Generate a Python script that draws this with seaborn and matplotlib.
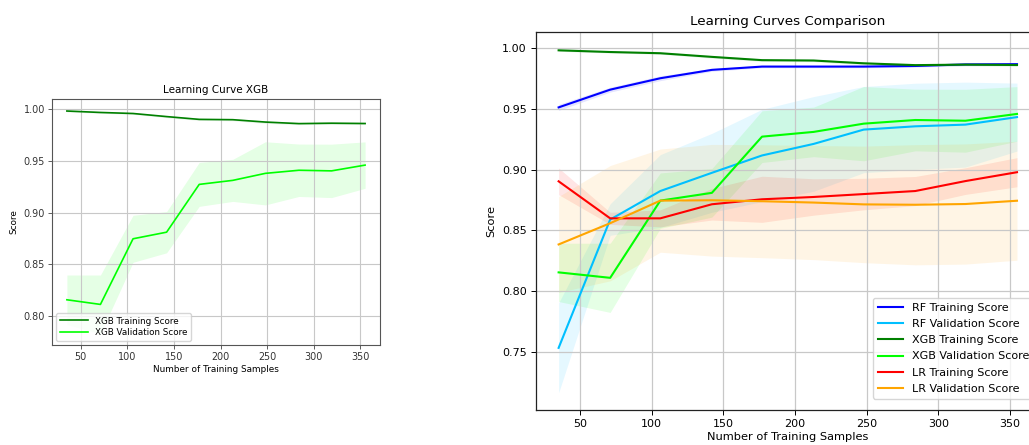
import numpy as np
import matplotlib
matplotlib.use("Agg")
import matplotlib.pyplot as plt
import seaborn as sns
import pandas as pd

# Training set sizes used for the learning curves
train_sizes = [35, 71, 106, 142, 177, 213, 248, 284, 319, 355]

# Random forest
rf_train_mean = [0.9514, 0.9660, 0.9754, 0.9823, 0.9850, 0.9850, 0.9850, 0.9855, 0.9868, 0.9870]
rf_train_std = [0.0025, 0.0020, 0.0020, 0.0012, 0.0010, 0.0010, 0.0010, 0.0010, 0.0010, 0.0010]
rf_val_mean = [0.7533, 0.8590, 0.8825, 0.8975, 0.9118, 0.9213, 0.9331, 0.9358, 0.9372, 0.9434]
rf_val_std = [0.0370, 0.0130, 0.0300, 0.0325, 0.0380, 0.0390, 0.0355, 0.0355, 0.0350, 0.0280]

# XGBoost
xgb_train_mean = [0.9984, 0.9970, 0.9960, 0.9930, 0.9903, 0.9900, 0.9877, 0.9862, 0.9866, 0.9863]
xgb_train_std = [0.0008, 0.0008, 0.0008, 0.0010, 0.0010, 0.0010, 0.0012, 0.0010, 0.0010, 0.0010]
xgb_val_mean = [0.8155, 0.8110, 0.8746, 0.8810, 0.9273, 0.9312, 0.9380, 0.9410, 0.9404, 0.9460]
xgb_val_std = [0.0240, 0.0285, 0.0228, 0.0200, 0.0213, 0.0204, 0.0306, 0.0254, 0.0259, 0.0225]

# Logistic regression
lr_train_mean = [0.8905, 0.8600, 0.8600, 0.8716, 0.8757, 0.8776, 0.8800, 0.8825, 0.8907, 0.8980]
lr_train_std = [0.0110, 0.0050, 0.0070, 0.0130, 0.0190, 0.0150, 0.0130, 0.0120, 0.0110, 0.0120]
lr_val_mean = [0.8385, 0.8560, 0.8746, 0.8749, 0.8741, 0.8730, 0.8715, 0.8712, 0.8718, 0.8745]
lr_val_std = [0.0395, 0.0475, 0.0425, 0.0460, 0.0465, 0.0470, 0.0480, 0.0495, 0.0495, 0.0490]

series = [
    ("RF Training Score", rf_train_mean, rf_train_std, "blue"),
    ("RF Validation Score", rf_val_mean, rf_val_std, "deepskyblue"),
    ("XGB Training Score", xgb_train_mean, xgb_train_std, "green"),
    ("XGB Validation Score", xgb_val_mean, xgb_val_std, "lime"),
    ("LR Training Score", lr_train_mean, lr_train_std, "red"),
    ("LR Validation Score", lr_val_mean, lr_val_std, "orange"),
]


def draw_curve(ax, label, mean, std, color, lw):
    df = pd.DataFrame({"size": train_sizes, "score": mean})
    sns.lineplot(data=df, x="size", y="score", ax=ax, color=color, label=label, linewidth=lw)
    m = np.asarray(mean)
    s = np.asarray(std)
    ax.fill_between(train_sizes, m - s, m + s, color=color, alpha=0.1, linewidth=0)


fig = plt.figure(figsize=(10.29, 4.45), dpi=100)

# Single-model curve for XGBoost
ax1 = fig.add_axes([0.0505, 0.2247, 0.3188, 0.5528])
for label, mean, std, color in series[2:4]:
    draw_curve(ax1, label, mean, std, color, 1.2)
ax1.set_title("Learning Curve XGB", fontsize=7.5, pad=4)
ax1.set_xlabel("Number of Training Samples", fontsize=6.4, labelpad=2)
ax1.set_ylabel("Score", fontsize=6.4, labelpad=4)
ax1.tick_params(labelsize=6.9, length=3, width=0.6, pad=2, colors="#444444", labelcolor="#333333")
ax1.grid(True, linewidth=0.8, color="#c8c8c8")
ax1.legend(loc="lower left", fontsize=6.3, handlelength=3.2, borderpad=0.4, labelspacing=0.3)
for sp in ax1.spines.values():
    sp.set_linewidth(0.8)
    sp.set_color("#555555")

# Comparison of all three models
ax2 = fig.add_axes([0.5206, 0.0787, 0.490, 0.849])
for label, mean, std, color in series:
    draw_curve(ax2, label, mean, std, color, 1.5)
ax2.set_title("Learning Curves Comparison", fontsize=9.7, pad=5)
ax2.set_xlabel("Number of Training Samples", fontsize=8.2, labelpad=2)
ax2.set_ylabel("Score", fontsize=8.2, labelpad=4)
ax2.tick_params(labelsize=8, length=3.5, width=0.7, pad=3)
ax2.grid(True, linewidth=0.9, color="#c8c8c8")
ax2.legend(loc="upper left", bbox_to_anchor=(0.669, 0.296), borderaxespad=0,
           fontsize=8, handlelength=2.25, handletextpad=0.8, borderpad=0.45, labelspacing=0.55)
for sp in ax2.spines.values():
    sp.set_linewidth(0.9)
    sp.set_color("#222222")

fig.savefig("out.png", dpi=100)
